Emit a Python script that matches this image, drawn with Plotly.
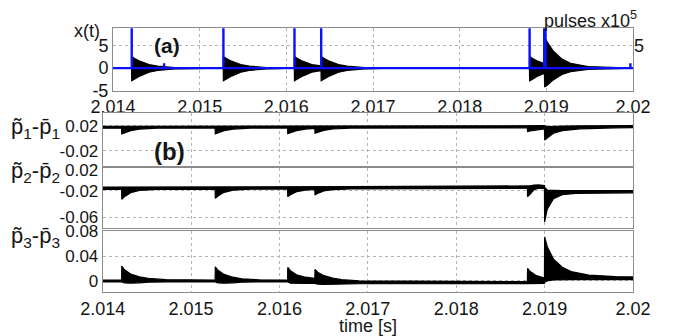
import plotly.graph_objects as go

W, H = 676, 336
FONT = "Liberation Sans, Arial, sans-serif"

# ---------------- data ----------------
x_ticks = [2.014, 2.015, 2.016, 2.017, 2.018, 2.019, 2.02]
x_ticklabels = ["2.014", "2.015", "2.016", "2.017", "2.018", "2.019", "2.02"]

# pulses (blue) x10^5
pulse_times = [2.014216, 2.014589, 2.015274, 2.016094, 2.016402, 2.018807, 2.018975, 2.018990, 2.01997]
pulse_heights = [10, 1.1, 10, 10, 10, 10, 10, 10, 1.1]

# x(t) oscillation envelope (black)
top_t = [2.014, 2.014214, 2.014216, 2.014246, 2.014316, 2.014416, 2.014516, 2.014716, 2.015016,
         2.015272, 2.015274, 2.015304, 2.015374, 2.015474, 2.015574, 2.015774, 2.016074,
         2.016092, 2.016094, 2.016124, 2.016194, 2.016294, 2.016400,
         2.016402, 2.016432, 2.016502, 2.016602, 2.016702, 2.016902, 2.017202,
         2.018805, 2.018807, 2.018837, 2.018907, 2.018978,
         2.018980, 2.019010, 2.019080, 2.019180, 2.019280, 2.019480, 2.019780, 2.02]
top_hi = [0, 0, 2.6, 2.2, 1.5, 0.8, 0.45, 0.15, 0,
          0, 2.6, 2.2, 1.5, 0.8, 0.45, 0.15, 0.02,
          0.02, 2.6, 2.2, 1.5, 0.8, 0.5,
          2.6, 2.2, 1.5, 0.8, 0.45, 0.15, 0,
          0, 2.6, 2.2, 1.5, 1.0,
          7.0, 5.8, 3.8, 2.0, 1.1, 0.35, 0.06, 0]
top_lo = [0, 0, -2.8, -2.5, -1.7, -0.9, -0.5, -0.15, 0,
          0, -2.8, -2.5, -1.7, -0.9, -0.5, -0.15, -0.02,
          -0.02, -2.8, -2.5, -1.7, -0.9, -0.55,
          -2.8, -2.5, -1.7, -0.9, -0.5, -0.15, 0,
          0, -2.8, -2.5, -1.7, -1.1,
          -4.2, -3.8, -2.6, -1.4, -0.8, -0.25, -0.05, 0]

# p1~ - p1_ envelope
p1_t = [2.014, 2.014214, 2.014216, 2.014246, 2.014316, 2.014416, 2.014616,
        2.015272, 2.015274, 2.015304, 2.015374, 2.015474, 2.015674,
        2.016092, 2.016094, 2.016124, 2.016194, 2.016294, 2.016400,
        2.016402, 2.016432, 2.016502, 2.016602, 2.016802,
        2.018805, 2.018807, 2.018837, 2.018907, 2.018998,
        2.019000, 2.019030, 2.019100, 2.019200, 2.019400, 2.019800, 2.02]
p1_hi = [0.0190, 0.0190, 0.0190, 0.0190, 0.0190, 0.0190, 0.0190,
         0.0191, 0.0191, 0.0191, 0.0191, 0.0191, 0.0191,
         0.0192, 0.0192, 0.0192, 0.0192, 0.0192, 0.0192,
         0.0192, 0.0192, 0.0192, 0.0192, 0.0192,
         0.0195, 0.0195, 0.0195, 0.0195, 0.0200,
         0.0200, 0.0185, 0.0190, 0.0195, 0.0198, 0.0199, 0.0200]
p1_lo = [0.0160, 0.0160, 0.0070, 0.0085, 0.0120, 0.0145, 0.0160,
         0.0161, 0.0070, 0.0085, 0.0120, 0.0145, 0.0161,
         0.0162, 0.0072, 0.0088, 0.0122, 0.0146, 0.0155,
         0.0080, 0.0092, 0.0124, 0.0147, 0.0162,
         0.0165, 0.0105, 0.0115, 0.0135, 0.0150,
         -0.0030, 0.0000, 0.0080, 0.0120, 0.0150, 0.0165, 0.0169]

# p2~ - p2_ envelope
p2_t = [2.014, 2.014214, 2.014216, 2.014246, 2.014316, 2.014416, 2.014616,
        2.015272, 2.015274, 2.015304, 2.015374, 2.015474, 2.015674,
        2.016092, 2.016094, 2.016124, 2.016194, 2.016294, 2.016400,
        2.016402, 2.016432, 2.016502, 2.016602, 2.016802,
        2.018805, 2.018807, 2.018837, 2.018880, 2.018930, 2.018998,
        2.019000, 2.019030, 2.019100, 2.019200, 2.019350, 2.019600, 2.02]
p2_hi = [-0.0145, -0.0145, -0.0145, -0.0145, -0.0145, -0.0145, -0.0145,
         -0.0141, -0.0141, -0.0141, -0.0141, -0.0141, -0.0141,
         -0.0138, -0.0138, -0.0138, -0.0138, -0.0138, -0.0138,
         -0.0137, -0.0137, -0.0137, -0.0137, -0.0137,
         -0.0127, -0.0127, -0.0127, -0.0115, -0.0112, -0.0120,
         -0.0150, -0.0190, -0.0195, -0.0197, -0.0197, -0.0197, -0.0197]
p2_lo = [-0.0181, -0.0181, -0.0331, -0.0290, -0.0230, -0.0195, -0.0181,
         -0.0177, -0.0316, -0.0280, -0.0225, -0.0192, -0.0177,
         -0.0174, -0.0290, -0.0260, -0.0215, -0.0190, -0.0180,
         -0.0266, -0.0240, -0.0205, -0.0185, -0.0173,
         -0.0163, -0.0290, -0.0250, -0.0185, -0.0160, -0.0165,
         -0.0675, -0.0480, -0.0320, -0.0260, -0.0240, -0.0233, -0.0233]

# p3~ - p3_ envelope
p3_t = [2.014, 2.014214, 2.014216, 2.014246, 2.014316, 2.014416, 2.014516, 2.014716,
        2.015272, 2.015274, 2.015304, 2.015374, 2.015474, 2.015574, 2.015774,
        2.016092, 2.016094, 2.016124, 2.016194, 2.016294, 2.016400,
        2.016402, 2.016432, 2.016502, 2.016602, 2.016702, 2.016902,
        2.018805, 2.018807, 2.018837, 2.018907, 2.018998,
        2.019000, 2.019030, 2.019100, 2.019200, 2.019300, 2.019500, 2.019800, 2.02]
p3_hi = [0.0015, 0.0015, 0.0238, 0.0180, 0.0110, 0.0065, 0.0040, 0.0020,
         0.0015, 0.0228, 0.0170, 0.0105, 0.0060, 0.0035, 0.0018,
         0.0015, 0.0217, 0.0165, 0.0100, 0.0060, 0.0040,
         0.0185, 0.0140, 0.0085, 0.0045, 0.0020, 0.0000,
         -0.0012, 0.0200, 0.0150, 0.0085, 0.0045,
         0.0705, 0.0550, 0.0350, 0.0220, 0.0150, 0.0095, 0.0070, 0.0065]
p3_lo = [-0.0015, -0.0015, -0.0015, -0.0030, -0.0035, -0.0030, -0.0020, -0.0015,
         -0.0015, -0.0015, -0.0030, -0.0035, -0.0030, -0.0020, -0.0015,
         -0.0015, -0.0015, -0.0035, -0.0040, -0.0040, -0.0040,
         -0.0040, -0.0050, -0.0055, -0.0055, -0.0050, -0.0045,
         -0.0042, -0.0042, -0.0050, -0.0050, -0.0040,
         -0.0020, 0.0000, 0.0015, 0.0020, 0.0020, 0.0020, 0.0020, 0.0020]

# ---------------- figure ----------------
fig = go.Figure()


def envelope(t, lo, hi, xa, ya, lw=1.2):
    fig.add_trace(go.Scatter(x=t, y=lo, xaxis=xa, yaxis=ya, mode="lines",
                             line=dict(color="black", width=lw), hoverinfo="skip"))
    fig.add_trace(go.Scatter(x=t, y=hi, xaxis=xa, yaxis=ya, mode="lines",
                             line=dict(color="black", width=lw), fill="tonexty",
                             fillcolor="black", hoverinfo="skip"))


envelope(top_t, top_lo, top_hi, "x", "y")

# blue pulse trace built from pulse arrays
px, py = [x_ticks[0]], [0]
for t, h in zip(pulse_times, pulse_heights):
    px += [t, t, t]
    py += [0, h, 0]
px.append(x_ticks[-1]); py.append(0)
fig.add_trace(go.Scatter(x=px, y=py, xaxis="x", yaxis="y", mode="lines",
                         line=dict(color="#0a10ff", width=2.4), hoverinfo="skip"))

envelope(p1_t, p1_lo, p1_hi, "x2", "y2")
envelope(p2_t, p2_lo, p2_hi, "x3", "y3")
envelope(p3_t, p3_lo, p3_hi, "x4", "y4")

# dummy trace so the right-hand axis renders
fig.add_trace(go.Scatter(x=[2.014], y=[0], xaxis="x", yaxis="y5", mode="markers",
                         marker=dict(size=1, color="rgba(0,0,0,0)"), hoverinfo="skip"))

frame = "#8c8c8c"
grid = "#b4b4b4"


def ax(**kw):
    d = dict(showline=True, linecolor=frame, linewidth=1, mirror=True,
             showgrid=True, gridcolor=grid, griddash="dot", gridwidth=1,
             ticks="", zeroline=False, fixedrange=True, automargin=False,
             tickfont=dict(family=FONT, size=18, color="#151515"))
    d.update(kw)
    return d


def px2x(p):
    return p / W


def px2y(p):
    return 1 - p / H


xdom_top = [px2x(113), px2x(633)]
xdom_bot = [px2x(102.7), px2x(633)]
yfont = dict(family=FONT, size=17, color="#151515")

fig.update_layout(
    template="none",
    width=W, height=H, margin=dict(l=0, r=0, t=0, b=0, pad=0), autosize=False,
    paper_bgcolor="white", plot_bgcolor="white", showlegend=False,
    xaxis=ax(domain=xdom_top, range=[2.014, 2.02], anchor="y",
             tickvals=x_ticks, ticktext=x_ticklabels),
    yaxis=ax(domain=[px2y(90.7), px2y(28.3)], range=[-5, 8.85], anchor="x",
             tickvals=[-5, 0, 5], ticktext=["-5", "0", "5"]),
    yaxis5=ax(overlaying="y", side="right", range=[-5, 8.85], anchor="x",
              tickvals=[5], ticktext=["5"], showgrid=False, showline=False),
    xaxis2=ax(domain=xdom_bot, range=[2.014, 2.02], anchor="y2",
              tickvals=x_ticks, showticklabels=False),
    yaxis2=ax(domain=[px2y(165.7), px2y(113.3)], range=[-0.044, 0.0398], anchor="x2",
              tickvals=[-0.02, 0.02], ticktext=["-0.02", "0.02"], tickfont=yfont),
    xaxis3=ax(domain=xdom_bot, range=[2.014, 2.02], anchor="y3",
              tickvals=x_ticks, showticklabels=False),
    yaxis3=ax(domain=[px2y(228.3), px2y(167.7)], range=[-0.0772, 0.015], anchor="x3",
              tickvals=[-0.06, -0.02], ticktext=["-0.06", "-0.02"], tickfont=yfont),
    xaxis4=ax(domain=xdom_bot, range=[2.014, 2.02], anchor="y4",
              tickvals=x_ticks, ticktext=x_ticklabels),
    yaxis4=ax(domain=[px2y(292.3), px2y(231)], range=[-0.0182, 0.0801], anchor="x4",
              tickvals=[0, 0.04, 0.08], ticktext=["0", "0.04", "0.08"], tickfont=yfont),
)


def ann(text, x, y, size=18, bold=False, xanchor="center"):
    if bold:
        text = "<b>" + text + "</b>"
    fig.add_annotation(text=text, x=px2x(x), y=px2y(y), xref="paper", yref="paper",
                       showarrow=False, xanchor=xanchor, yanchor="middle",
                       font=dict(family=FONT, size=size, color="#151515"))


ann("x(t)", 87, 31, 18)
ann("(a)", 167, 46, 21, bold=True)
ann("pulses x10<sup>5</sup>", 590, 19, 18)
ann("(b)", 169, 151, 24, bold=True)
ann("p\u0303<sub>1</sub>-p\u0304<sub>1</sub>", 35, 128, 22)
ann("p\u0303<sub>2</sub>-p\u0304<sub>2</sub>", 35, 172, 22)
ann("p\u0303<sub>3</sub>-p\u0304<sub>3</sub>", 35, 237, 22)
ann("0.02", 99.5, 170, 17, xanchor="right")
ann("time [s]", 368, 326, 18)

fig.write_html("out.html")
